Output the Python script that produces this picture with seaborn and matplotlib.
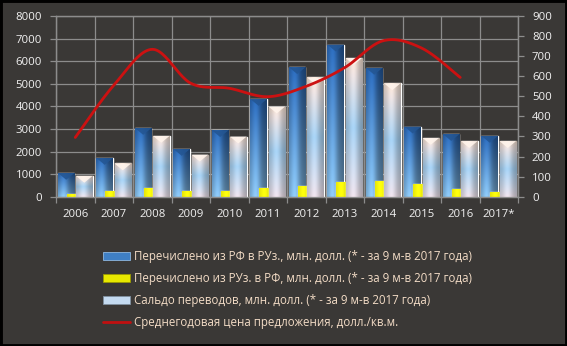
import numpy as np
import pandas as pd
import matplotlib
matplotlib.use("Agg")
import matplotlib.pyplot as plt
import seaborn as sns
from matplotlib.patches import Rectangle, Polygon
from matplotlib.lines import Line2D

# ---------------- data ----------------
years = ["2006", "2007", "2008", "2009", "2010", "2011",
         "2012", "2013", "2014", "2015", "2016", "2017*"]
sent_ru_to_uz = [1050, 1710, 3040, 2110, 2940, 4320, 5730, 6730, 5700, 3100, 2770, 2690]
sent_uz_to_ru = [120, 260, 370, 270, 270, 370, 470, 650, 690, 560, 320, 220]
balance = [920, 1470, 2690, 1860, 2660, 3990, 5280, 6140, 5020, 2600, 2460, 2460]
price_years = years[:11]
avg_price = [295, 555, 734, 565, 540, 498, 550, 643, 777, 740, 594]

left_ticks = [0, 1000, 2000, 3000, 4000, 5000, 6000, 7000, 8000]
right_ticks = [0, 100, 200, 300, 400, 500, 600, 700, 800, 900]

labels = [
    "Перечислено из РФ в РУз., млн. долл. (* - за 9 м-в 2017 года)",
    "Перечислено из РУз. в РФ, млн. долл. (* - за 9 м-в 2017 года)",
    "Сальдо переводов, млн. долл. (* - за 9 м-в 2017 года)",
    "Среднегодовая цена предложения, долл./кв.м.",
]

# ---------------- style ----------------
sns.set_theme(style="dark")
plt.rcParams['font.family'] = ['Open Sans', 'DejaVu Sans']

BG = '#3a3836'
GRID = '#8c8c8c'
TXT = '#f2f2f2'
LEG_TXT = '#f3dcc6'

W_PX, H_PX = 567, 346
fig = plt.figure(figsize=(W_PX / 100, H_PX / 100), dpi=100, facecolor=BG)
ax_l, ax_r, ax_t, ax_b = 56, 518, 16, 196.7
ax = fig.add_axes([ax_l / W_PX, 1 - ax_b / H_PX, (ax_r - ax_l) / W_PX, (ax_b - ax_t) / H_PX])
ax.set_facecolor(BG)

df = pd.DataFrame({"year": years, "ru_uz": sent_ru_to_uz,
                   "uz_ru": sent_uz_to_ru, "bal": balance})

BAR_W = 0.43
series = [
    ("ru_uz", -0.235, '#3f7fc4', 2),
    ("uz_ru", 0.0, '#f2f200', 3),
    ("bal", 0.235, '#c8dcef', 4),
]


def grad_blue(nx=40, ny=80):
    t = np.linspace(0, 1, ny)[:, None]
    top = np.array([42, 105, 185]) / 255
    bot = np.array([140, 198, 242]) / 255
    base = top[None, None, :] * (1 - t[..., None]) + bot[None, None, :] * t[..., None]
    u = np.linspace(0, 1, nx)[None, :]
    shade = 0.78 + 0.33 * np.exp(-((u - 0.35) / 0.28) ** 2) - 0.2 * u
    img = np.clip(base * shade[..., None], 0, 1)
    return img


def grad_bal(nx=40, ny=80):
    t = np.linspace(0, 1, ny)
    stops_t = [0.0, 0.12, 0.5, 0.85, 1.0]
    cols = np.array([[250, 228, 212], [235, 225, 225], [165, 208, 242],
                     [215, 222, 238], [236, 224, 234]]) / 255
    base = np.stack([np.interp(t, stops_t, cols[:, k]) for k in range(3)], axis=-1)
    u = np.linspace(0, 1, nx)
    shade = 0.82 + 0.25 * np.exp(-((u - 0.45) / 0.3) ** 2) - 0.1 * u
    img = np.clip(base[:, None, :] * shade[None, :, None], 0, 1)
    return img


def grad_yellow(nx=40, ny=10):
    u = np.linspace(0, 1, nx)
    shade = 0.85 + 0.2 * np.exp(-((u - 0.35) / 0.3) ** 2) - 0.15 * u
    base = np.array([1.0, 1.0, 0.05])
    img = np.clip(np.ones((ny, nx, 3)) * base * shade[None, :, None], 0, 1)
    return img


grads = {"ru_uz": grad_blue(), "uz_ru": grad_yellow(), "bal": grad_bal()}
bevel = {"ru_uz": '#245693', "uz_ru": None, "bal": '#fff4ec'}

for col, off, color, z in series:
    n0 = len(ax.patches)
    sns.barplot(data=df, x="year", y=col, ax=ax, color=color, width=BAR_W,
                saturation=1, errorbar=None, zorder=z)
    for p in ax.patches[n0:]:
        p.set_x(p.get_x() + off)
        x0, y0 = p.get_x(), p.get_y()
        w, h = p.get_width(), p.get_height()
        im = ax.imshow(grads[col], extent=[x0, x0 + w, y0, y0 + h], origin='upper',
                       aspect='auto', zorder=z + 0.1, interpolation='bilinear')
        im.set_clip_path(p)
        if bevel[col] is not None:
            bh = 300
            tri = Polygon([[x0, y0 + h], [x0 + w, y0 + h], [x0 + w / 2, y0 + h - bh]],
                          closed=True, facecolor=bevel[col], edgecolor='none',
                          alpha=0.9, zorder=z + 0.2)
            ax.add_patch(tri)

ax.set_xlim(-0.5, len(years) - 0.5)
ax.set_ylim(0, 8000)
ax.set_yticks(left_ticks)
ax.set_xticks(range(len(years)))
ax.set_xticklabels(years)
ax.set_xticks(np.arange(-0.5, len(years), 1), minor=True)
ax.set_xlabel("")
ax.set_ylabel("")
ax.set_axisbelow(True)
ax.grid(False)
ax.grid(which='minor', axis='x', color=GRID, lw=0.9)
ax.grid(which='major', axis='y', color=GRID, lw=0.9)
ax.tick_params(axis='x', which='major', length=0, pad=9, labelsize=8.2, labelcolor=TXT)
ax.tick_params(axis='x', which='minor', length=4, width=0.9, color=GRID, direction='out', bottom=True)
ax.tick_params(axis='y', length=4, width=0.9, color=GRID, direction='out', left=True,
               pad=6, labelsize=8.2, labelcolor=TXT)
for s in ax.spines.values():
    s.set_color(GRID)
    s.set_linewidth(0.9)
    s.set_visible(True)

# ---------------- line on secondary axis ----------------
ax2 = ax.twinx()
ax2.set_ylim(0, 900)
ax2.set_yticks(right_ticks)
ax2.grid(False)
ax2.tick_params(axis='y', length=4, width=0.9, color=GRID, direction='out', right=True,
                pad=6, labelsize=8.2, labelcolor=TXT)
for s in ax2.spines.values():
    s.set_color(GRID)
    s.set_linewidth(0.9)

# smooth (Excel-like) curve through the data points, computed in screen proportions
xpos = np.arange(len(price_years), dtype=float)
sx = (ax_r - ax_l) / len(years)          # px per category
sy = (ax_b - ax_t) / 900.0               # px per unit
P = np.column_stack([xpos * sx, np.asarray(avg_price, float) * sy])
Pe = np.vstack([P[0], P, P[-1]])
pts = []
tt = np.linspace(0, 1, 25)[:, None]
for i in range(len(P) - 1):
    p0, p1, p2, p3 = Pe[i], Pe[i + 1], Pe[i + 2], Pe[i + 3]
    c1 = p1 + (p2 - p0) / 6
    c2 = p2 - (p3 - p1) / 6
    seg = ((1 - tt) ** 3) * p1 + 3 * ((1 - tt) ** 2) * tt * c1 + 3 * (1 - tt) * tt ** 2 * c2 + tt ** 3 * p2
    pts.append(seg if i == 0 else seg[1:])
pts = np.vstack(pts)
curve = pd.DataFrame({"x": pts[:, 0] / sx, "y": pts[:, 1] / sy})
sns.lineplot(data=curve, x="x", y="y", ax=ax2, sort=False, color='#cc1111', lw=2.0)
ax2.set_xlabel("")
ax2.set_ylabel("")
ax2.set_xlim(-0.5, len(years) - 0.5)

# ---------------- legend ----------------
handles = [
    Rectangle((0, 0), 1, 1, facecolor='#3f7fc4', edgecolor='#8fb8e0', lw=0.6),
    Rectangle((0, 0), 1, 1, facecolor='#e8e800', edgecolor='#9a9a00', lw=0.6),
    Rectangle((0, 0), 1, 1, facecolor='#c4daf0', edgecolor='#8090a0', lw=0.6),
    Line2D([0], [0], color='#c01010', lw=2.0),
]
leg = fig.legend(handles, labels, loc='upper left',
                 bbox_to_anchor=(103 / W_PX, 1 - 250 / H_PX),
                 frameon=False, fontsize=8.3, handlelength=2.3, handleheight=0.6,
                 handletextpad=0.35, labelspacing=0.78, borderpad=0, borderaxespad=0)
for t in leg.get_texts():
    t.set_color(LEG_TXT)

# figure border
fig.patches.append(Rectangle((0, 0), 1, 1, transform=fig.transFigure, fill=False,
                             edgecolor='black', lw=3.5, zorder=10))

fig.savefig("out.png", dpi=100, facecolor=BG)
